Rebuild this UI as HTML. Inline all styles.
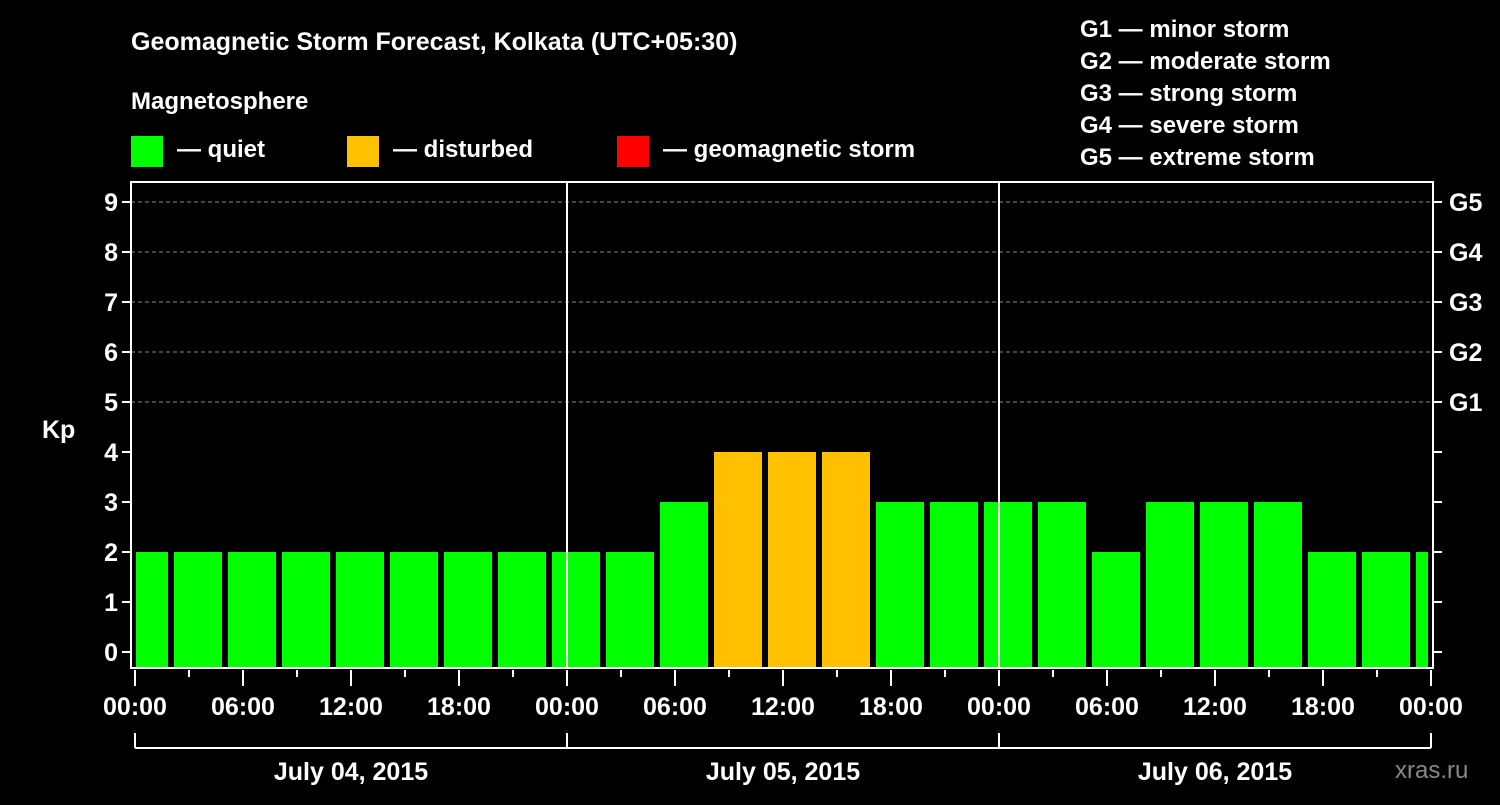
<!DOCTYPE html>
<html><head><meta charset="utf-8"><style>
body{margin:0;background:#000;width:1500px;height:800px;overflow:hidden;font-family:"Liberation Sans",sans-serif}
svg text{font-family:"Liberation Sans",sans-serif;font-weight:bold;fill:#fff}
</style></head><body>
<svg id="c" width="1500" height="800">
<text x="131" y="50" font-size="25">Geomagnetic Storm Forecast, Kolkata (UTC+05:30)</text>
<text x="131" y="109" font-size="24">Magnetosphere</text>
<rect x="131" y="136" width="32" height="31" fill="#00ff00"/>
<text x="177" y="157" font-size="24">— quiet</text>
<rect x="347" y="136" width="32" height="31" fill="#ffc000"/>
<text x="393" y="157" font-size="24">— disturbed</text>
<rect x="617" y="136" width="32" height="31" fill="#ff0000"/>
<text x="663" y="157" font-size="24">— geomagnetic storm</text>
<g font-size="24">
<text x="1080" y="37">G1 — minor storm</text>
<text x="1080" y="69">G2 — moderate storm</text>
<text x="1080" y="101">G3 — strong storm</text>
<text x="1080" y="133">G4 — severe storm</text>
<text x="1080" y="165">G5 — extreme storm</text>
</g>
<text x="42" y="438" font-size="25">Kp</text>
<text x="1395" y="778" font-size="24" fill="#888" style="fill:#888;font-weight:normal">xras.ru</text>
<g id="g"></g>
</svg>
<script>
const kpValues=[2,2,2,2,2,2,2,2,2,2,3,4,4,4,3,3,3,3,2,3,3,3,2,2,2];
const hourLabels=["00:00","06:00","12:00","18:00","00:00","06:00","12:00","18:00","00:00","06:00","12:00","18:00","00:00"];
const dayLabels=["July 04, 2015","July 05, 2015","July 06, 2015"];
const gLabels=["G1","G2","G3","G4","G5"];
const X0=135,PX_H=18,L=131,R=1433,T=182,B=668;
const x=h=>X0+h*PX_H;
const y=v=>652-v*50;
const g=document.getElementById('g');
const NS='http://www.w3.org/2000/svg';
function mk(t,a){const e=document.createElementNS(NS,t);for(const k in a)e.setAttribute(k,a[k]);g.appendChild(e);return e;}
// gridlines
for(let v=5;v<=9;v++){const e=mk('line',{x1:L,x2:R,y1:y(v),y2:y(v),stroke:'#888','stroke-dasharray':'4,3'});

}
// bars
kpValues.forEach((v,i)=>{
 let s=x(-1+3*i)+3,e2=x(-1+3*i)+51;
 s=Math.max(s,L+5);e2=Math.min(e2,R-5);
 const col=v>=5?'#ff0000':v>=4?'#ffc000':'#00ff00';
 const r=mk('rect',{x:s,y:y(v),width:e2-s,height:B-y(v),fill:col});
 
 
});
// day lines
for(let d=1;d<=2;d++){const e=mk('line',{x1:x(24*d),x2:x(24*d),y1:T,y2:B,stroke:'#fff','stroke-width':2});

}
const fr=mk('rect',{x:L,y:T,width:R-L,height:B-T,fill:'none',stroke:'#fff','stroke-width':2});


// y ticks
for(let v=0;v<=9;v++){
 mk('line',{x1:L-9,x2:L,y1:y(v),y2:y(v),stroke:'#fff','stroke-width':2});
 mk('line',{x1:R,x2:R+9,y1:y(v),y2:y(v),stroke:'#fff','stroke-width':2});
 const t=mk('text',{x:L-13,y:y(v)+9,'font-size':25,'text-anchor':'end'});t.textContent=v;
 
 
}
gLabels.forEach((s,i)=>{const t=mk('text',{x:1449,y:y(5+i)+9,'font-size':25});t.textContent=s;
 
 });
// x ticks
for(let h=0;h<=72;h+=3){const maj=h%6===0;mk('line',{x1:x(h),x2:x(h),y1:B+2,y2:B+(maj?18:9),stroke:'#fff','stroke-width':2});}
hourLabels.forEach((s,i)=>{const t=mk('text',{x:x(i*6),y:715,'font-size':25,'text-anchor':'middle'});t.textContent=s;
 
 });
// day bracket
mk('line',{x1:x(0),x2:x(72),y1:748,y2:748,stroke:'#fff','stroke-width':2});
for(let d=0;d<=3;d++)mk('line',{x1:x(24*d),x2:x(24*d),y1:733,y2:748,stroke:'#fff','stroke-width':2});
dayLabels.forEach((s,i)=>{const t=mk('text',{x:x(24*i+12),y:780,'font-size':25,'text-anchor':'middle'});t.textContent=s;
 
 });
</script>
</body></html>
